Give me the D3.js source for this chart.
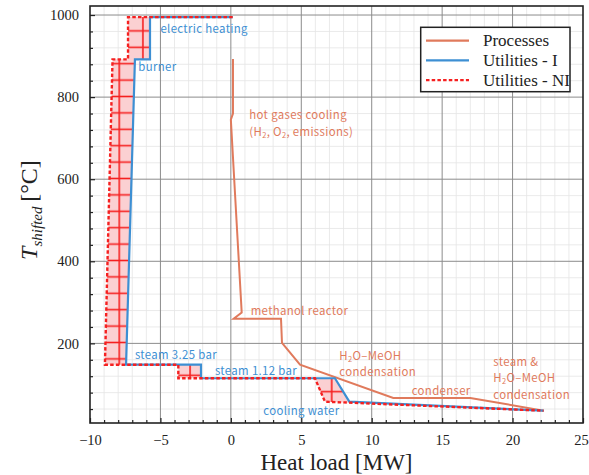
<!DOCTYPE html>
<html>
<head>
<meta charset="utf-8">
<script src="https://cdn.jsdelivr.net/npm/d3@7"></script>
<style>
  body { margin: 0; background: #fff; }
  svg { display: block; }
  .tick text { font-family: "Liberation Serif", serif; font-size: 14.5px; fill: #222; }
  .note { font-family: "Noto Sans CJK JP", "Noto Sans", sans-serif; font-size: 11.4px; letter-spacing: 0.35px; }
</style>
</head>
<body>
<div id="chart"></div>
<script>
// Composite curves [heat load MW, shifted temperature C]
const processCurve = [
    [0.15, 893], [0.15, 760], [0.0, 745], [0.77, 275], [0.2, 260], [3.56, 260],
    [3.63, 201], [4.91, 148], [11.53, 67], [17.0, 67], [22.2, 36]
];
const utilitiesI = [
    [0.13, 995], [-5.74, 995], [-5.74, 892], [-6.81, 892], [-7.44, 148], [-2.12, 148],
    [-2.12, 115], [7.39, 115], [8.41, 58], [22.2, 36]
];
const utilitiesNI = [
    [0.13, 995], [-7.3, 995], [-7.3, 892], [-8.4, 892], [-8.94, 148], [-3.73, 148],
    [-3.73, 115], [5.97, 115], [6.68, 58], [22.2, 36]
];

const xTicks = [-10, -5, 0, 5, 10, 15, 20, 25];
const yTicks = [200, 400, 600, 800, 1000];

const legendLabels = ['Processes', 'Utilities - I', 'Utilities - NI'];

// annotation text, anchored at [x MW, T C] (left / baseline)
const utilityNotes = [
    { x: -5.0, y: 956, lines: ['electric heating'] },
    { x: -6.57, y: 864, lines: ['burner'] },
    { x: -6.81, y: 161, lines: ['steam 3.25 bar'] },
    { x: -1.13, y: 122, lines: ['steam 1.12 bar'] },
    { x: 2.3, y: 26, lines: ['cooling water'] }
];
const processNotes = [
    { x: 1.31, y: 746, lines: ['hot gases cooling', '(H|2|, O|2|, emissions)'] },
    { x: 1.41, y: 268, lines: ['methanol reactor'] },
    { x: 7.7, y: 160, lines: ['H|2|O\u2013MeOH', 'condensation'] },
    { x: 12.84, y: 75, lines: ['condenser'] },
    { x: 18.63, y: 145, lines: ['steam &', 'H|2|O\u2013MeOH', 'condensation'] }
];

const colors = { process: '#e07a5c', util: '#3d8fd3', ni: '#f52020', fill: '#fbd0d2' };

const width = 589, height = 475;
const margin = { top: 6, right: 6, bottom: 52, left: 90 };

const svg = d3.select('#chart').append('svg')
    .attr('width', width)
    .attr('height', height);

const x = d3.scaleLinear().domain([-10, 25]).range([margin.left, width - margin.right]);
const y = d3.scaleLinear().domain([6, 1022]).range([height - margin.bottom, margin.top]);

const xMinor = d3.range(-9, 25).filter(v => v % 5 !== 0);
const yMinor = d3.range(40, 1021, 40).filter(v => v % 200 !== 0);

// grid
const grid = svg.append('g');
grid.selectAll('.xminor')
    .data(xMinor)
    .join('line')
    .attr('x1', d => x(d)).attr('x2', d => x(d))
    .attr('y1', y.range()[0]).attr('y2', y.range()[1])
    .attr('stroke', '#e4e4e4').attr('stroke-width', 0.8);
grid.selectAll('.yminor')
    .data(yMinor)
    .join('line')
    .attr('y1', d => y(d)).attr('y2', d => y(d))
    .attr('x1', x.range()[0]).attr('x2', x.range()[1])
    .attr('stroke', '#e4e4e4').attr('stroke-width', 0.8);
grid.selectAll('.xmajor')
    .data(xTicks.slice(1, -1))
    .join('line')
    .attr('x1', d => x(d)).attr('x2', d => x(d))
    .attr('y1', y.range()[0]).attr('y2', y.range()[1])
    .attr('stroke', '#8c8c8c').attr('stroke-width', 1);
grid.selectAll('.ymajor')
    .data(yTicks)
    .join('line')
    .attr('y1', d => y(d)).attr('y2', d => y(d))
    .attr('x1', x.range()[0]).attr('x2', x.range()[1])
    .attr('stroke', '#8c8c8c').attr('stroke-width', 1);

// hatch pattern for the utility gap
const defs = svg.append('defs');
const hw = 23.6, hh = 16.4;
const pat = defs.append('pattern')
    .attr('id', 'hatch')
    .attr('patternUnits', 'userSpaceOnUse')
    .attr('x', 1.3 - hw / 2).attr('y', 14.5 - hh / 2)
    .attr('width', hw).attr('height', hh);
pat.append('rect').attr('width', hw).attr('height', hh).attr('fill', colors.fill);
pat.append('line').attr('x1', hw / 2).attr('x2', hw / 2).attr('y1', 0).attr('y2', hh)
    .attr('stroke', colors.ni).attr('stroke-width', 1.6);
pat.append('line').attr('y1', hh / 2).attr('y2', hh / 2).attr('x1', 0).attr('x2', hw)
    .attr('stroke', colors.ni).attr('stroke-width', 1.6);

const line = d3.line().x(d => x(d[0])).y(d => y(d[1]));

// area between NI and I curves
svg.append('path')
    .attr('d', line(utilitiesNI.concat(utilitiesI.slice().reverse())) + 'Z')
    .attr('fill', 'url(#hatch)')
    .attr('stroke', 'none');

svg.append('path').attr('d', line(processCurve))
    .attr('fill', 'none').attr('stroke', colors.process).attr('stroke-width', 2);
svg.append('path').attr('d', line(utilitiesI))
    .attr('fill', 'none').attr('stroke', colors.util).attr('stroke-width', 2.2);
svg.append('path').attr('d', line(utilitiesNI))
    .attr('fill', 'none').attr('stroke', colors.ni).attr('stroke-width', 2.4)
    .attr('stroke-dasharray', '3.5,2.2');

// annotations
function addNotes(notes, color) {
    notes.forEach(n => {
        const t = svg.append('text').attr('class', 'note').attr('fill', color);
        n.lines.forEach((ln, i) => {
            const row = t.append('tspan').attr('x', x(n.x)).attr('y', y(n.y) + i * 16.3);
            ln.split('|').forEach((part, k) => {
                if (!part) return;
                const s = row.append('tspan').text(part);
                if (k % 2 === 1) s.attr('font-size', '7.5px').attr('baseline-shift', '-25%');
            });
        });
    });
}
addNotes(utilityNotes, colors.util);
addNotes(processNotes, colors.process);

// axes (ticks inward)
const xAxis = svg.append('g')
    .attr('transform', `translate(0,${y.range()[0]})`)
    .call(d3.axisBottom(x).tickValues(xTicks).tickSize(-5).tickPadding(12)
        .tickFormat(d => d < 0 ? '\u2212' + Math.abs(d) : d));
xAxis.select('.domain').remove();
xAxis.selectAll('.tick text').filter(d => d === 25).attr('dx', -2);
svg.append('g')
    .attr('transform', `translate(0,${y.range()[0]})`)
    .call(d3.axisBottom(x).tickValues(xMinor).tickSize(-3).tickFormat(''))
    .select('.domain').remove();

const yAxis = svg.append('g')
    .attr('transform', `translate(${x.range()[0]},0)`)
    .call(d3.axisLeft(y).tickValues(yTicks).tickSize(-5).tickPadding(11).tickFormat(d3.format('d')));
yAxis.select('.domain').remove();
svg.append('g')
    .attr('transform', `translate(${x.range()[0]},0)`)
    .call(d3.axisLeft(y).tickValues(yMinor).tickSize(-3).tickFormat(''))
    .select('.domain').remove();
svg.selectAll('.tick line').attr('stroke', '#222').attr('stroke-width', 1.2);

svg.append('rect')
    .attr('x', x.range()[0]).attr('y', y.range()[1])
    .attr('width', x.range()[1] - x.range()[0])
    .attr('height', y.range()[0] - y.range()[1])
    .attr('fill', 'none').attr('stroke', '#222').attr('stroke-width', 1.6);

// axis titles
svg.append('text')
    .attr('x', (x.range()[0] + x.range()[1]) / 2)
    .attr('y', 470)
    .attr('text-anchor', 'middle')
    .style('font-family', '"Liberation Serif", serif')
    .style('font-size', '23px')
    .attr('fill', '#222')
    .text('Heat load [MW]');

const yl = svg.append('text')
    .attr('transform', 'translate(37,210) rotate(-90)')
    .attr('text-anchor', 'middle')
    .style('font-family', '"Liberation Serif", serif')
    .style('font-size', '24px')
    .attr('fill', '#222');
yl.append('tspan').attr('font-style', 'italic').text('T');
yl.append('tspan').attr('font-style', 'italic').attr('font-size', '15px').attr('dy', 5).text('shifted');
yl.append('tspan').attr('dy', -5).text('\u2009[\u00b0C]');

// legend
const lg = svg.append('g');
lg.append('rect')
    .attr('x', 420.7).attr('y', 27.3).attr('width', 149.3).attr('height', 64.4)
    .attr('fill', '#fff').attr('stroke', '#222').attr('stroke-width', 1.5);
const legendStyles = [
    { color: colors.process, dash: null },
    { color: colors.util, dash: null },
    { color: colors.ni, dash: '3.5,2.2' }
];
legendLabels.forEach((label, i) => {
    const cy = 40.7 + i * 19.7;
    lg.append('line')
        .attr('x1', 426).attr('x2', 469).attr('y1', cy).attr('y2', cy)
        .attr('stroke', legendStyles[i].color).attr('stroke-width', 2.3)
        .attr('stroke-dasharray', legendStyles[i].dash);
    lg.append('text')
        .attr('x', 483).attr('y', cy + 5.5)
        .style('font-family', '"Liberation Serif", serif')
        .style('font-size', '17px')
        .attr('fill', '#222')
        .text(label);
});
</script>
</body>
</html>
